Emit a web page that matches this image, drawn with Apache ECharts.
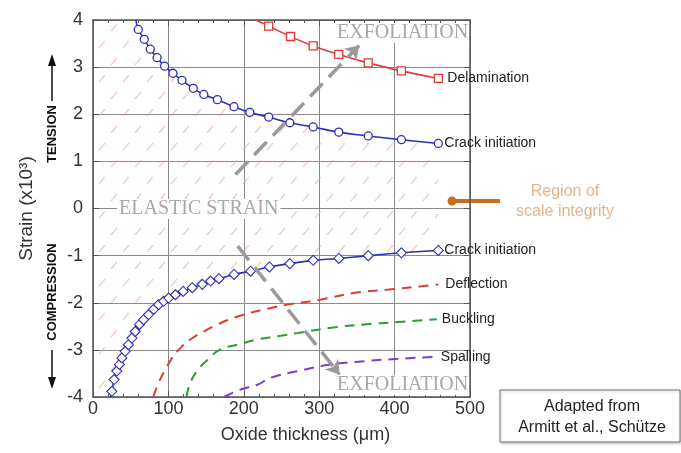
<!DOCTYPE html>
<html>
<head>
<meta charset="utf-8">
<script src="https://cdn.jsdelivr.net/npm/echarts@6/dist/echarts.min.js"></script>
<style>
  html, body { margin: 0; padding: 0; background: #fff; }
  #chart { width: 681px; height: 453px; }
</style>
</head>
<body>
<div id="chart"></div>
<script>
// oxide thickness (um) vs strain (x10^3)
var tensionX = [57, 60, 68, 76, 85, 95, 106, 118, 133, 147, 165, 187, 208, 233, 261, 292, 326, 365, 409, 458];
var tensionY = [4.0, 3.80, 3.59, 3.38, 3.20, 3.02, 2.87, 2.72, 2.55, 2.42, 2.31, 2.16, 2.04, 1.94, 1.82, 1.73, 1.62, 1.54, 1.46, 1.38];

var compX = [23.5, 25, 28, 31.6, 35, 38.3, 42.7, 47, 51.6, 56, 61.7, 67, 73.7, 80.4, 87, 93.7, 100.4, 109.3, 119.6, 131.6, 145, 156, 167, 187, 209, 234, 261, 292, 326, 365, 409, 458];
var compY = [-4.0, -3.88, -3.63, -3.45, -3.31, -3.17, -3.03, -2.89, -2.75, -2.61, -2.46, -2.36, -2.25, -2.14, -2.04, -1.97, -1.90, -1.83, -1.76, -1.68, -1.61, -1.54, -1.49, -1.40, -1.33, -1.24, -1.17, -1.10, -1.06, -1.00, -0.94, -0.89];

var delamX = [216, 233, 262, 292, 326, 365, 409, 458];
var delamY = [4.0, 3.87, 3.65, 3.45, 3.27, 3.09, 2.92, 2.76];

var deflX = [80, 87, 96, 105, 116, 129, 147, 165, 187, 209, 236, 258, 303, 347, 392, 436, 458];
var deflY = [-4.0, -3.70, -3.42, -3.17, -2.96, -2.78, -2.61, -2.46, -2.32, -2.21, -2.11, -2.04, -1.93, -1.79, -1.72, -1.65, -1.61];

var buckX = [124, 129, 138, 152, 169, 192, 218, 245, 272, 316, 360, 405, 456];
var buckY = [-4.0, -3.70, -3.45, -3.21, -2.99, -2.89, -2.78, -2.71, -2.64, -2.53, -2.46, -2.41, -2.35];

var spallX = [174, 196, 218, 236, 272, 316, 360, 405, 452];
var spallY = [-4.0, -3.84, -3.74, -3.59, -3.45, -3.31, -3.24, -3.19, -3.15];

// exfoliation arrows, [start, end] in data units
var arrowUp = [[189, 0.72], [353, 3.46]];
var arrowDown = [[192, -0.80], [327, -3.52]];

var font = 'Liberation Sans, Arial, sans-serif';
var serif = 'Liberation Serif, Times New Roman, serif';
var blue = '#2e2eb8', red = '#e03a3a', green = '#2e9a3a', purple = '#7a3cd0';

function pairs(xs, ys, noFirstSymbol) {
  return xs.map(function(x, i) {
    var d = { value: [x, ys[i]] };
    if (noFirstSymbol && i === 0) d.symbol = 'none';
    return d;
  });
}

// hatch pattern for the elastic region
var hatch = document.createElement('canvas');
hatch.width = 24; hatch.height = 34;
var hc = hatch.getContext('2d');
hc.strokeStyle = 'rgba(238,160,140,0.5)';
hc.lineWidth = 1.5;
hc.beginPath();
hc.moveTo(3, 14); hc.lineTo(9, 7);
hc.moveTo(15, 31); hc.lineTo(21, 24);
hc.stroke();

var bandPts = [[0, 4]];
tensionX.forEach(function(x, i) { bandPts.push([x, tensionY[i]]); });
for (var i = compX.length - 1; i >= 0; i--) bandPts.push([compX[i], compY[i]]);
bandPts.push([0, -4]);

var chart = echarts.init(document.getElementById('chart'));

var axisLine = { onZero: false, lineStyle: { color: '#555', width: 1.5 } };
var tick = { inside: true, length: 6, lineStyle: { color: '#555', width: 1 } };
var endLbl = function(text, dist) {
  return { show: true, formatter: text, color: '#222', fontSize: 14, fontFamily: font, distance: dist };
};

chart.setOption({
  animation: false,
  backgroundColor: '#fff',
  grid: { left: 93, right: 211, top: 20, bottom: 56 },
  xAxis: [{
    type: 'value', min: 0, max: 500, interval: 100, position: 'bottom',
    axisLine: axisLine, axisTick: tick,
    minorTick: { show: true, splitNumber: 5, length: 3, lineStyle: { color: '#555' } },
    axisLabel: { fontSize: 18, color: '#333', margin: 3, fontFamily: font },
    splitLine: { show: true, lineStyle: { color: '#8a8a8a', width: 1 } },
    name: 'Oxide thickness (μm)', nameLocation: 'middle', nameGap: 29,
    nameTextStyle: { fontSize: 18, color: '#333', fontFamily: font, padding: [0, 0, 0, 48] }
  }, {
    type: 'value', min: 0, max: 500, interval: 100, position: 'top',
    axisLine: axisLine, axisTick: tick,
    minorTick: { show: true, splitNumber: 5, length: 3, lineStyle: { color: '#555' } },
    axisLabel: { show: false }, splitLine: { show: false }
  }],
  yAxis: [{
    type: 'value', min: -4, max: 4, interval: 1, position: 'left',
    axisLine: axisLine, axisTick: tick,
    axisLabel: { fontSize: 18, color: '#333', margin: 10, fontFamily: font },
    splitLine: { show: true, lineStyle: { color: '#8a8a8a', width: 1 } },
    name: 'Strain (x10³)', nameLocation: 'middle', nameGap: 57,
    nameTextStyle: { fontSize: 19, color: '#333', fontFamily: font }
  }, {
    type: 'value', min: -4, max: 4, interval: 1, position: 'right',
    axisLine: axisLine, axisTick: tick,
    axisLabel: { show: false }, splitLine: { show: false }
  }],
  series: [{
    type: 'custom',
    silent: true,
    z: 1,
    clip: true,
    data: [[0, 0]],
    renderItem: function(params, api) {
      return {
        type: 'polygon',
        shape: { points: bandPts.map(function(p) { return api.coord(p); }) },
        style: { fill: { image: hatch, repeat: 'repeat' }, stroke: null }
      };
    }
  }, {
    type: 'line', name: 'Delamination', data: pairs(delamX, delamY, true),
    symbol: 'rect', symbolSize: 8, showAllSymbol: true, smooth: true,
    lineStyle: { color: red, width: 1.6 }, itemStyle: { color: '#fff', borderColor: red, borderWidth: 1.3 },
    endLabel: endLbl('Delamination', 9)
  }, {
    type: 'line', name: 'Crack initiation', data: pairs(tensionX, tensionY, true),
    symbol: 'circle', symbolSize: 8, showAllSymbol: true, smooth: true,
    lineStyle: { color: blue, width: 1.6 }, itemStyle: { color: '#fff', borderColor: blue, borderWidth: 1.3 },
    endLabel: endLbl('Crack initiation', 6)
  }, {
    type: 'line', name: 'Crack initiation 2', data: pairs(compX, compY, true),
    symbol: 'diamond', symbolSize: 10, showAllSymbol: true, smooth: true,
    lineStyle: { color: blue, width: 1.6 }, itemStyle: { color: '#fff', borderColor: blue, borderWidth: 1.1 },
    endLabel: endLbl('Crack initiation', 6)
  }, {
    type: 'line', name: 'Deflection', data: pairs(deflX, deflY), symbol: 'none', smooth: true,
    lineStyle: { color: red, width: 2, type: [10, 7] },
    endLabel: endLbl('Deflection', 7)
  }, {
    type: 'line', name: 'Buckling', data: pairs(buckX, buckY), symbol: 'none', smooth: true,
    lineStyle: { color: green, width: 2, type: [10, 7] },
    endLabel: endLbl('Buckling', 5)
  }, {
    type: 'line', name: 'Spalling', data: pairs(spallX, spallY), symbol: 'none', smooth: true,
    lineStyle: { color: purple, width: 2, type: [10, 7] },
    endLabel: endLbl('Spalling', 7)
  }, {
    type: 'lines', coordinateSystem: 'cartesian2d', z: 5,
    symbol: ['none', 'arrow'], symbolSize: 13,
    lineStyle: { color: '#9a9a9a', width: 3.5, type: [18, 9], opacity: 1 },
    data: [{ coords: arrowUp }, { coords: arrowDown }]
  }],
  graphic: [
    { type: 'text', x: 117, y: 209, z: 10, style: { text: 'ELASTIC STRAIN', font: '20px ' + serif, fill: '#a8a8a8', backgroundColor: '#fff', padding: [0, 2], verticalAlign: 'middle' } },
    { type: 'text', x: 336, y: 33, z: 10, style: { text: 'EXFOLIATION', font: '20px ' + serif, fill: '#a8a8a8', backgroundColor: '#fff', padding: [0, 1], verticalAlign: 'middle' } },
    { type: 'text', x: 336, y: 385, z: 10, style: { text: 'EXFOLIATION', font: '20px ' + serif, fill: '#a8a8a8', backgroundColor: '#fff', padding: [0, 1], verticalAlign: 'middle' } },
    // tension / compression arrows
    { type: 'line', shape: { x1: 52, y1: 101, x2: 52, y2: 62 }, style: { stroke: '#111', lineWidth: 1.5 } },
    { type: 'polygon', shape: { points: [[52, 54], [48, 66], [56, 66]] }, style: { fill: '#111' } },
    { type: 'text', x: 52, y: 134, rotation: Math.PI / 2, style: { text: 'TENSION', font: 'bold 13px ' + font, fill: '#111', align: 'center', verticalAlign: 'middle' } },
    { type: 'line', shape: { x1: 52, y1: 350, x2: 52, y2: 380 }, style: { stroke: '#111', lineWidth: 1.5 } },
    { type: 'polygon', shape: { points: [[52, 389], [48, 377], [56, 377]] }, style: { fill: '#111' } },
    { type: 'text', x: 52, y: 292, rotation: Math.PI / 2, style: { text: 'COMPRESSION', font: 'bold 13px ' + font, fill: '#111', align: 'center', verticalAlign: 'middle' } },
    // region of scale integrity
    { type: 'line', shape: { x1: 452, y1: 201, x2: 500, y2: 201 }, style: { stroke: '#c4701c', lineWidth: 4 } },
    { type: 'circle', shape: { cx: 452, cy: 201, r: 4.5 }, style: { fill: '#c4701c' } },
    { type: 'text', x: 565, y: 192, style: { text: 'Region of', font: '16px ' + font, fill: '#e3b48a', align: 'center', verticalAlign: 'middle' } },
    { type: 'text', x: 565, y: 212, style: { text: 'scale integrity', font: '16px ' + font, fill: '#e3b48a', align: 'center', verticalAlign: 'middle' } },
    // source box
    { type: 'rect', shape: { x: 500, y: 390, width: 180, height: 52 }, style: { fill: '#fff', stroke: '#777', lineWidth: 1, shadowBlur: 3, shadowColor: 'rgba(0,0,0,0.25)', shadowOffsetX: 1, shadowOffsetY: 1 } },
    { type: 'text', x: 592, y: 407, style: { text: 'Adapted from', font: '16px ' + font, fill: '#222', align: 'center', verticalAlign: 'middle' } },
    { type: 'text', x: 592, y: 428, style: { text: 'Armitt et al., Schütze', font: '16px ' + font, fill: '#222', align: 'center', verticalAlign: 'middle' } }
  ]
});
</script>
</body>
</html>
